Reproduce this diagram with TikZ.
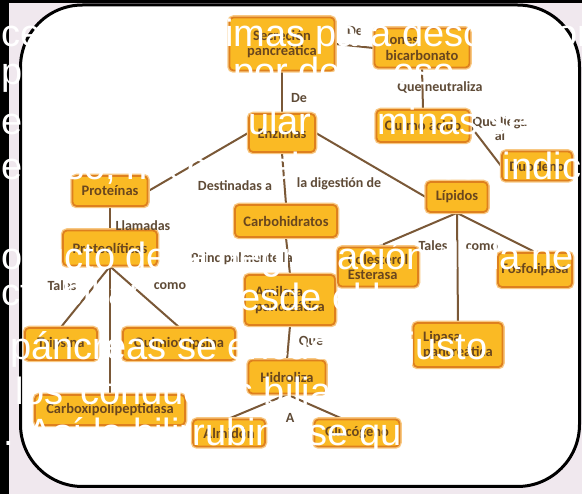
\documentclass[tikz,border=0pt]{standalone}
\usepackage{fontspec}
\setmainfont{Carlito}
\newfontfamily\ovlfont{Liberation Sans}
\definecolor{boxfill}{RGB}{250,186,36}
\definecolor{boxline}{RGB}{222,128,30}
\definecolor{boxhalo}{RGB}{248,200,130}
\definecolor{boxtext}{RGB}{105,70,30}
\definecolor{conncol}{RGB}{122,88,55}
\definecolor{lblcol}{RGB}{95,75,55}
\definecolor{pinkbg}{RGB}{240,232,238}
\definecolor{mapbg}{RGB}{255,255,255}
\pgfdeclarelayer{frame}
\pgfdeclarelayer{lines}
\pgfsetlayers{frame,lines,main}
\begin{document}
\begin{tikzpicture}[x=1pt,y=-1pt,
  mbox/.style={draw=boxline, fill=boxfill, line width=1.8pt, rounded corners=4pt,
    preaction={draw=boxhalo, line width=4.5pt},
    font=\bfseries\fontsize{14.5}{15.5}\selectfont, text=boxtext, inner sep=0pt, align=center},
  lbl/.style={font=\bfseries\fontsize{14}{14}\selectfont, text=lblcol, inner sep=0pt, align=center},
  conn/.style={draw=conncol, line width=2pt},
  ov/.style={font=\ovlfont\fontsize{38}{38}\selectfont, text=white, inner sep=0pt, anchor=base west}]
\useasboundingbox (0,0) rectangle (582,494);
\begin{pgfonlayer}{frame}
\fill[black] (0,0) rectangle (582,494);
\fill[pinkbg] (9,3) rectangle (582,494);
\draw[fill=mapbg, line width=3pt, rounded corners=62pt] (20.5,5) rectangle (579.5,486.5);
\end{pgfonlayer}
% nodes
\node[mbox, minimum width=105pt, minimum height=53pt] (sec) at (282,44) {Secreción\\pancreática};
\node[mbox, minimum width=95pt, minimum height=39pt, align=left] (ion) at (422,48) {Iones\\bicarbonato};
\node[mbox, minimum width=66pt, minimum height=38pt] (enz) at (282,133) {Enzimas};
\node[mbox, minimum width=93pt, minimum height=32pt] (qui) at (423,126) {Quimo ácido};
\node[mbox, minimum width=70pt, minimum height=29pt] (duo) at (537,166) {Duodeno};
\node[mbox, minimum width=75pt, minimum height=30pt] (pro) at (110,191) {Proteínas};
\node[mbox, minimum width=102pt, minimum height=32pt] (car) at (286,221) {Carbohidratos};
\node[mbox, minimum width=61pt, minimum height=30pt] (lip) at (457,197) {Lípidos};
\node[mbox, minimum width=94pt, minimum height=35pt] (ptl) at (110,248) {Proteolíticas};
\node[mbox, minimum width=72pt, minimum height=32pt] (tri) at (61,344) {Tripsina};
\node[mbox, minimum width=112pt, minimum height=32pt] (qmt) at (179,344) {Quimiotripsina};
\node[mbox, minimum width=150pt, minimum height=30pt] (cbx) at (110,410) {Carboxipolipeptidasa};
\node[mbox, minimum width=90pt, minimum height=50pt, align=left] (ami) at (290,300) {Amilasa\\pancreática};
\node[mbox, minimum width=77pt, minimum height=33pt] (hid) at (287,377) {Hidroliza};
\node[mbox, minimum width=72pt, minimum height=27pt] (alm) at (229,433) {Almidón};
\node[mbox, minimum width=85pt, minimum height=27pt] (glu) at (357,433) {Glucógeno};
\node[mbox, minimum width=80pt, minimum height=39pt, align=left] (col) at (378,267) {Colesterol\\Esterasa};
\node[mbox, minimum width=74pt, minimum height=34pt] (fos) at (535,270) {Fosfolipasa};
\node[mbox, minimum width=89pt, minimum height=44pt, align=left] (lpa) at (458,345) {Lipasa\\pancreática};
% connectors
\begin{pgfonlayer}{lines}
\draw[conn] (sec.east) -- (ion.west);
\draw[conn] (sec.south) -- (enz.north);
\draw[conn] (ion.south) -- (qui.north);
\draw[conn] (qui.east) -- (duo.west);
\draw[conn] (enz.west) -- (pro.east);
\draw[conn] (enz.south) -- (car.north);
\draw[conn] (enz.east) -- (lip.west);
\draw[conn] (pro.south) -- (ptl.north);
\draw[conn] (ptl.south) -- (tri.north);
\draw[conn] (ptl.south) -- (qmt.north);
\draw[conn] (ptl.south) -- (cbx.north);
\draw[conn] (car.south) -- (ami.north);
\draw[conn] (ami.south) -- (hid.north);
\draw[conn] (hid.south) -- (alm.north);
\draw[conn] (hid.south) -- ([xshift=-15pt]glu.north);
\draw[conn] (lip.south) -- (col.north);
\draw[conn] (lip.south) -- (fos.north);
\draw[conn] (lip.south) -- (lpa.north);
\end{pgfonlayer}
% labels
\node[lbl] (l1) at (355,31) {De};
\node[lbl] (l2) at (299,98) {De};
\node[lbl] (l3) at (440,87) {Que neutraliza};
\node[lbl] (l4) at (500,129) {Que llega\\al};
\node[lbl] (l5) at (235,186) {Destinadas a};
\node[lbl] (l6) at (339,184) {la digestión de};
\node[lbl] (l7) at (143,226) {Llamadas};
\node[lbl] (l8) at (62,286) {Tales};
\node[lbl] (l9) at (170,286) {como};
\node[lbl] (l10) at (242,259) {Principalmente la};
\node[lbl] (l11) at (311,342) {Que};
\node[lbl] (l12) at (290,418) {A};
\node[lbl] (l13) at (433,246) {Tales};
\node[lbl] (l14) at (482,247) {como};
% overlay text
\node[ov] (t1) at (1,47) {ce varias enzimas para descomponer};
\node[ov] (t2a) at (1,85) {pti};
\node[ov] (t2b) at (233,85) {por de};
\node[ov] (t2c) at (393,85) {eso.};
\node[ov] (t3a) at (1,135) {en};
\node[ov] (t3b) at (248,135) {ular};
\node[ov] (t3c) at (377,135) {minas se};
\node[ov] (t4a) at (1,180) {e};
\node[ov] (t4b) at (65,180) {so, nece};
\node[ov] (t4c) at (270,180) {el};
\node[ov] (t4d) at (400,180) {ticos. indic};
\node[ov] (t6) at (1,270) {oducto de la degradación de la he};
\node[ov] (t7a) at (1,306) {cto biliar};
\node[ov] (t7b) at (218,311) {desde el h};
\node[ov] (t8) at (10,360) {páncreas se encuentra justo};
\node[ov] (t9a) at (15,405) {los};
\node[ov] (t9b) at (80,405) {conductos biliares};
\node[ov] (t10) at (3,446) {. Así la bilirrubina se queda};
\end{tikzpicture}
\end{document}
